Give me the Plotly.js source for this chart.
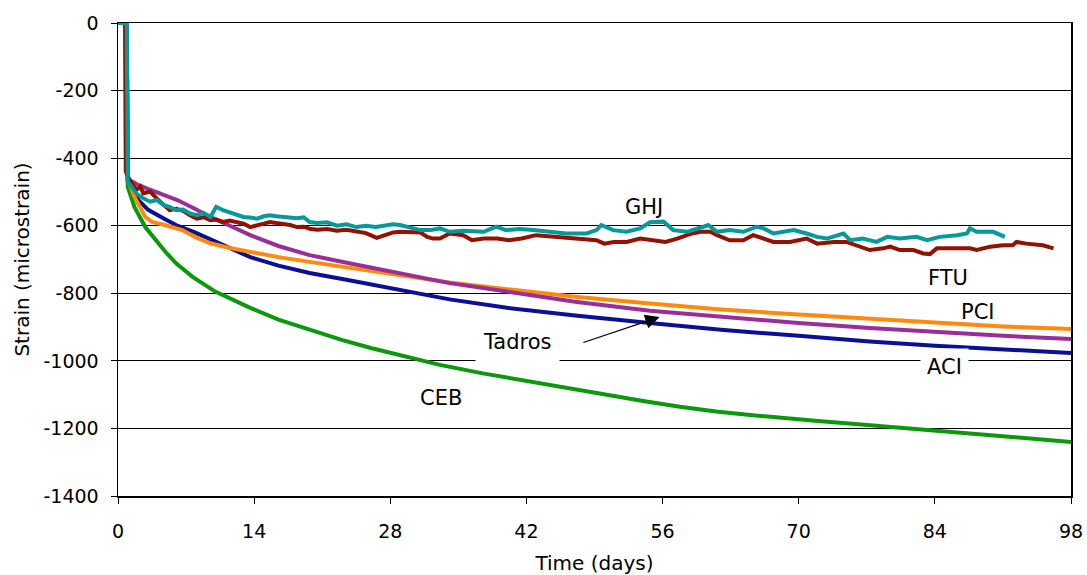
<!DOCTYPE html>
<html>
<head>
<meta charset="utf-8">
<script src="https://cdn.plot.ly/plotly-3.0.1.min.js"></script>
<style>html,body{margin:0;padding:0;background:#fff;}#chart{width:1087px;height:575px;}</style>
</head>
<body>
<div id="chart"></div>
<script>
// ---- data (time in days, strain in microstrain) ----
const cebDays   = [0, 0.9, 1.0, 1.7, 2.8, 4.1, 4.8, 6.0, 7.7, 10.0, 12.2, 13.6, 16.5, 19.7, 23.0, 26.0, 29.5, 33.1, 37.5, 42.0, 46.0, 50.0, 54.0, 57.8, 61.5, 65.0, 68.5, 72.0, 75.5, 78.4, 82.0, 86.0, 89.0, 92.0, 95.0, 98.0];
const cebStrain = [0, 0, -485, -545, -604, -651, -675, -712, -752, -795, -825, -843, -878, -908, -938, -962, -988, -1012, -1037, -1060, -1081, -1100, -1119, -1136, -1150, -1160, -1170, -1178, -1186, -1193, -1201, -1210, -1218, -1225, -1232, -1240];

const aciDays   = [0, 0.9, 1.0, 1.5, 2.1, 3.1, 4.8, 6.1, 7.9, 9.5, 11.5, 13.6, 16.5, 19.7, 23.9, 28.0, 34.1, 40.0, 47.0, 54.7, 62.0, 70.0, 77.3, 84.0, 91.0, 98.0];
const aciStrain = [0, 0, -465, -500, -524, -553, -580, -600, -620, -640, -668, -693, -718, -740, -762, -785, -818, -843, -866, -888, -908, -926, -943, -955, -966, -977];

const pciDays   = [0, 0.9, 1.0, 1.7, 2.8, 3.5, 4.8, 6.6, 7.9, 9.5, 11.5, 13.6, 16.5, 19.7, 23.9, 28.0, 34.1, 40.0, 47.0, 54.7, 62.0, 70.0, 77.3, 84.0, 91.0, 98.0];
const pciStrain = [0, 0, -465, -515, -574, -589, -598, -613, -633, -652, -666, -678, -693, -707, -725, -743, -768, -788, -810, -830, -848, -863, -876, -888, -898, -906];

const tadDays   = [0, 0.9, 1.0, 2.0, 3.0, 4.5, 6.1, 7.9, 9.5, 11.5, 13.6, 16.5, 19.7, 23.9, 28.0, 34.1, 40.0, 47.0, 54.7, 62.0, 70.0, 77.3, 84.0, 91.0, 98.0];
const tadStrain = [0, 0, -462, -478, -490, -506, -524, -550, -574, -600, -628, -660, -687, -712, -735, -770, -795, -825, -852, -870, -888, -903, -915, -926, -935];

const ftuDays   = [0, 0.72, 0.8, 1.2, 1.9, 2.3, 2.6, 3.3, 4.0, 4.7, 5.3, 6.0, 6.7, 7.4, 8.1, 8.8, 9.5, 10.1, 10.8, 11.5, 12.2, 12.9, 13.6, 14.3, 15.0, 15.6, 16.3, 17.0, 17.7, 18.4, 19.1, 19.7, 20.5, 21.5, 22.5, 23.5, 24.5, 25.5, 26.6, 27.5, 28.3, 29.0, 30.0, 31.1, 31.8, 32.4, 33.1, 34.1, 35.5, 36.4, 37.6, 39.0, 40.2, 41.5, 43.0, 44.8, 47.0, 49.2, 50.0, 51.0, 52.3, 53.7, 55.0, 56.3, 57.5, 58.8, 59.9, 60.9, 61.6, 62.9, 64.3, 65.3, 66.4, 67.4, 69.1, 70.8, 71.9, 73.6, 74.9, 76.0, 77.3, 78.7, 79.4, 80.4, 81.8, 82.8, 83.5, 84.2, 86.3, 87.6, 88.3, 89.7, 91.0, 92.0, 92.4, 93.4, 95.1, 96.2];
const ftuStrain = [0, 0, -440, -465, -494, -484, -504, -499, -520, -540, -554, -550, -556, -569, -579, -575, -584, -582, -589, -585, -590, -594, -604, -600, -594, -589, -592, -594, -598, -604, -603, -609, -612, -610, -615, -612, -618, -622, -636, -628, -620, -618, -618, -620, -633, -638, -638, -623, -628, -643, -638, -638, -643, -638, -628, -633, -638, -643, -653, -648, -648, -638, -643, -648, -638, -625, -618, -618, -628, -643, -643, -628, -638, -648, -648, -638, -653, -648, -648, -658, -672, -667, -662, -672, -672, -682, -684, -667, -667, -667, -672, -662, -658, -658, -648, -653, -658, -667];

const ghjDays   = [0, 0.9, 1.0, 1.5, 1.9, 2.6, 3.3, 4.0, 4.7, 5.3, 6.0, 6.7, 7.4, 8.1, 8.8, 9.5, 10.1, 10.8, 11.5, 12.2, 12.9, 13.6, 14.3, 15.0, 15.6, 16.3, 17.0, 17.7, 18.4, 19.1, 19.7, 20.5, 21.5, 22.5, 23.5, 24.5, 25.5, 26.5, 27.5, 28.3, 29.0, 30.0, 31.1, 32.1, 33.1, 34.1, 35.5, 37.6, 38.9, 39.9, 41.3, 42.7, 44.4, 46.1, 48.2, 49.2, 49.7, 50.9, 52.3, 53.7, 54.7, 56.1, 57.1, 58.5, 60.2, 60.7, 61.6, 62.9, 64.3, 65.7, 66.4, 67.4, 68.4, 69.5, 70.8, 71.9, 72.9, 73.9, 74.6, 75.3, 76.6, 78.0, 79.1, 80.4, 82.1, 83.2, 84.5, 86.3, 87.3, 87.6, 88.3, 90.0, 91.2];
const ghjStrain = [0, 0, -470, -490, -505, -519, -529, -524, -539, -544, -554, -552, -564, -569, -562, -574, -544, -554, -560, -569, -574, -576, -579, -572, -569, -572, -574, -578, -578, -575, -589, -592, -590, -600, -596, -604, -600, -604, -598, -596, -598, -605, -613, -613, -608, -618, -615, -618, -603, -613, -610, -613, -618, -623, -623, -613, -598, -613, -618, -608, -590, -588, -613, -618, -603, -598, -618, -613, -618, -603, -608, -623, -618, -613, -623, -633, -638, -628, -623, -643, -638, -648, -633, -638, -633, -643, -633, -628, -623, -608, -618, -618, -633];

const xTickVals = [0, 14, 28, 42, 56, 70, 84, 98];
const yTickVals = [0, -200, -400, -600, -800, -1000, -1200, -1400];
const yTickText = ['0', '-200', '-400', '-600', '-800', '-1000', '-1200', '-1400'];

// ---- chart ----
const FONT = 'DejaVu Sans, Verdana, sans-serif';
function line(name, x, y, color) {
  return {type: 'scatter', mode: 'lines', name: name, x: x, y: y,
          line: {color: color, width: 4}, hoverinfo: 'skip'};
}
const traces = [
  line('CEB', cebDays, cebStrain, '#0a990a'),
  line('ACI', aciDays, aciStrain, '#0a0f96'),
  line('PCI', pciDays, pciStrain, '#ff8a0d'),
  line('Tadros', tadDays, tadStrain, '#992e99'),
  line('FTU', ftuDays, ftuStrain, '#931100'),
  line('GHJ', ghjDays, ghjStrain, '#059a99')
];

const txt = (text, x, y, extra) => Object.assign({
  text: text, x: x, y: y, xref: 'x', yref: 'y', showarrow: false,
  font: {family: FONT, size: 21, color: '#000'}
}, extra || {});

const layout = {
  width: 1087, height: 575,
  margin: {l: 118, r: 16, t: 23, b: 79},
  paper_bgcolor: '#fff', plot_bgcolor: '#fff',
  showlegend: false,
  font: {family: FONT, color: '#000'},
  xaxis: {
    range: [0, 98], tickvals: xTickVals, ticks: 'outside', ticklen: 6, tickcolor: '#000',
    showline: true, linecolor: '#000', linewidth: 1.5, mirror: true,
    showgrid: false, zeroline: false,
    tickfont: {family: FONT, size: 19}, ticklabelstandoff: 12,
    title: {text: 'Time (days)', font: {family: FONT, size: 20}, standoff: 16}
  },
  yaxis: {
    range: [-1400, 0], tickvals: yTickVals, ticktext: yTickText, ticks: 'outside', ticklen: 6, tickcolor: '#000',
    showline: true, linecolor: '#000', linewidth: 1.5, mirror: true,
    showgrid: true, gridcolor: '#000', gridwidth: 1, zeroline: false,
    tickfont: {family: FONT, size: 19}, ticklabelstandoff: 8,
    title: {text: 'Strain (microstrain)', font: {family: FONT, size: 20}, standoff: 8}
  },
  annotations: [
    txt('GHJ', 54.1, -546),
    txt('FTU', 85.3, -755),
    txt('PCI', 88.4, -855),
    txt('ACI', 85.0, -1018, {bgcolor: '#fff', borderpad: 6}),
    txt('CEB', 33.2, -1110),
    {x: 55.7, y: -870, ax: 47.7, ay: -947, xref: 'x', yref: 'y', axref: 'x', ayref: 'y',
     text: '', showarrow: true, arrowhead: 2, arrowsize: 2.4, arrowwidth: 1.2, arrowcolor: '#000'},
    txt('Tadros', 41.1, -945, {bgcolor: '#fff', borderpad: 7})
  ]
};

Plotly.newPlot('chart', traces, layout, {displayModeBar: false, staticPlot: true});
</script>
</body>
</html>
